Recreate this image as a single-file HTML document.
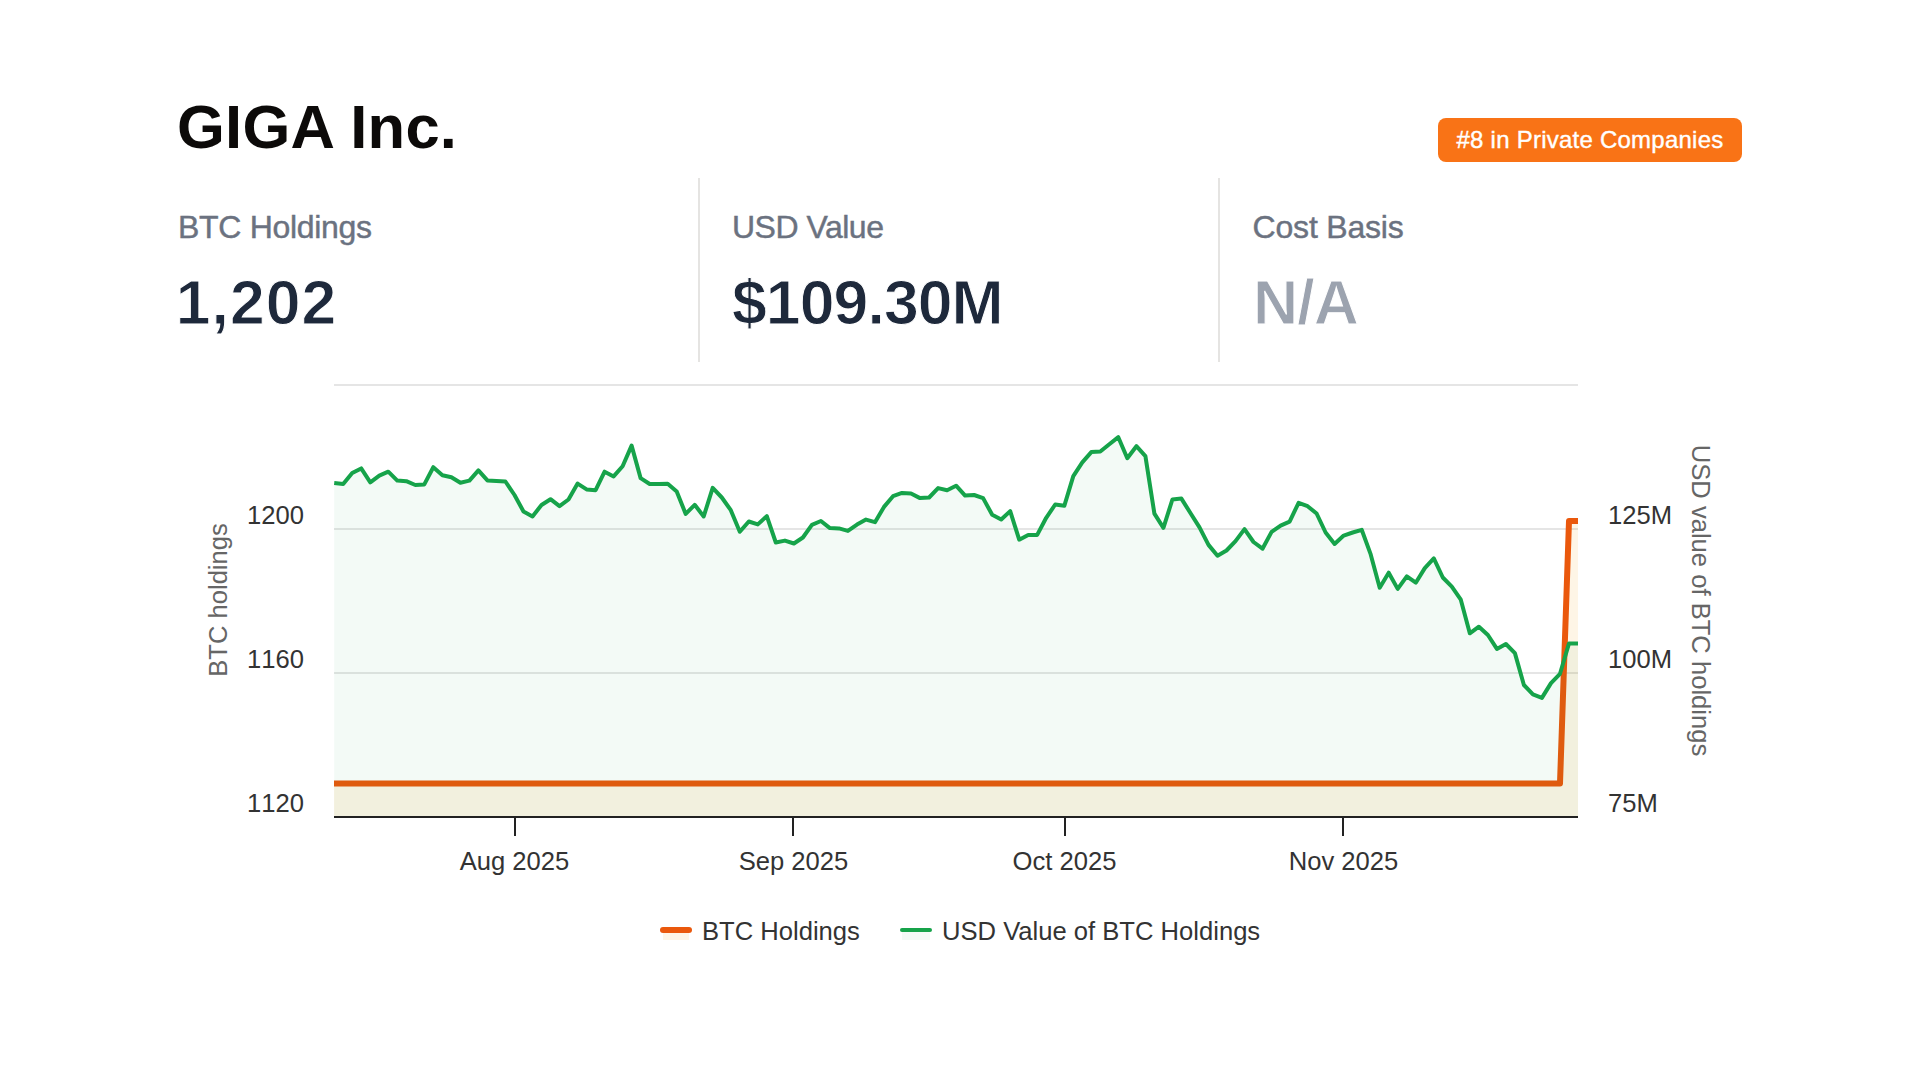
<!DOCTYPE html>
<html lang="en">
<head>
<meta charset="utf-8">
<title>GIGA Inc. – Bitcoin Holdings</title>
<style>
html,body{margin:0;padding:0;background:#fff;}
body{width:1920px;height:1080px;position:relative;overflow:hidden;font-family:"Liberation Sans",sans-serif;}
.title{position:absolute;left:177px;top:92px;margin:0;font-size:61.5px;line-height:70px;font-weight:700;color:#0c0a09;white-space:nowrap;letter-spacing:0.25px;}
.badge{position:absolute;left:1438px;top:118px;width:304px;height:44px;border-radius:8px;background:#f97316;color:#fff;font-size:24px;line-height:44px;text-align:center;white-space:nowrap;letter-spacing:0.24px;-webkit-text-stroke:0.4px #fff;}
.stat{position:absolute;top:178px;height:184px;}
.stat .lbl{position:absolute;left:0;top:31px;font-size:32px;line-height:36px;color:#6b7280;white-space:nowrap;letter-spacing:-0.3px;-webkit-text-stroke:0.45px #6b7280;}
.stat .val{position:absolute;left:0;top:89px;-webkit-text-stroke:1px #fff;font-size:62.5px;line-height:70px;font-weight:700;color:#1e293b;white-space:nowrap;}
.stat .val.na{color:#9ca3af;}
.div{position:absolute;top:178px;width:2px;height:184px;background:#e5e4e2;}
svg{position:absolute;left:0;top:0;}
svg text{font-family:"Liberation Sans",sans-serif;}
svg .nk text{font-kerning:none;}
</style>
</head>
<body>
<h1 class="title">GIGA Inc.</h1>
<div class="badge">#8 in Private Companies</div>

<div class="stat" style="left:178px;width:520px"><div class="lbl">BTC Holdings</div><div class="val" style="letter-spacing:1px;left:-2.2px">1,202</div></div>
<div class="div" style="left:698px"></div>
<div class="stat" style="left:731px;width:480px"><div class="lbl" style="left:1px;letter-spacing:-0.5px">USD Value</div><div class="val" style="letter-spacing:-0.9px;left:1px">$109.30M</div></div>
<div class="div" style="left:1218px"></div>
<div class="stat" style="left:1252px;width:480px"><div class="lbl" style="left:0.6px;letter-spacing:-0.2px">Cost Basis</div><div class="val na" style="letter-spacing:-0.9px;left:1px">N/A</div></div>

<svg width="1920" height="1080" viewBox="0 0 1920 1080">
  <defs><clipPath id="plot"><rect x="334" y="385" width="1244" height="433"/></clipPath></defs>
  <!-- top border -->
  <rect x="334" y="384" width="1244" height="2" fill="#e5e5e5"/>
  <!-- gridlines -->
  <g fill="#000" fill-opacity="0.1">
    <rect x="334" y="528" width="1244" height="2"/>
    <rect x="334" y="672" width="1244" height="2"/>
  </g>
  <g clip-path="url(#plot)">
    <!-- BTC holdings (orange) -->
    <path d="M334,783.4 L1560,783.4 L1569,521 L1578,521 L1578,817 L334,817 Z" fill="#f59e0b" fill-opacity="0.1"/>
    <path d="M330,783.4 L1560,783.4 L1569,521 L1584,521" fill="none" stroke="#ea580c" stroke-width="6" stroke-linejoin="round"/>
    <!-- USD value (green) -->
    <path d="M334.2,483.1 L343.2,484.1 L352.2,473.1 L361.2,468.4 L370.3,482.3 L379.3,475.6 L388.3,471.7 L397.3,480.6 L406.3,481.2 L415.3,485.0 L424.3,484.4 L433.3,467.2 L442.4,475.2 L451.4,477.2 L460.4,482.8 L469.4,480.6 L478.4,470.4 L487.4,480.4 L496.4,480.9 L505.4,481.5 L514.5,495.0 L523.5,511.5 L532.5,516.4 L541.5,505.0 L550.5,499.2 L559.5,506.2 L568.5,499.5 L577.6,483.6 L586.6,489.4 L595.6,490.2 L604.6,471.7 L613.6,476.4 L622.6,466.2 L631.6,445.6 L640.6,478.1 L649.7,484.0 L658.7,484.0 L667.7,483.8 L676.7,491.5 L685.7,513.9 L694.7,504.8 L703.7,516.4 L712.7,487.9 L721.8,497.5 L730.8,510.2 L739.8,531.8 L748.8,521.5 L757.8,524.4 L766.8,516.1 L775.8,542.5 L784.9,540.6 L793.9,543.5 L802.9,537.5 L811.9,524.8 L820.9,521.0 L829.9,528.1 L838.9,528.4 L847.9,530.9 L857.0,524.6 L866.0,519.6 L875.0,522.2 L884.0,506.9 L893.0,496.2 L902.0,492.9 L911.0,493.5 L920.0,498.1 L929.1,497.5 L938.1,488.1 L947.1,490.2 L956.1,485.7 L965.1,495.6 L974.1,495.0 L983.1,498.1 L992.2,514.8 L1001.2,519.5 L1010.2,511.1 L1019.2,539.7 L1028.2,535.0 L1037.2,534.9 L1046.2,517.8 L1055.2,504.5 L1064.3,505.8 L1073.3,476.1 L1082.3,462.4 L1091.3,452.1 L1100.3,451.5 L1109.3,444.2 L1118.3,437.2 L1127.3,458.2 L1136.4,446.2 L1145.4,456.1 L1154.4,513.6 L1163.4,527.9 L1172.4,499.5 L1181.4,498.6 L1190.4,513.0 L1199.5,527.4 L1208.5,544.9 L1217.5,555.7 L1226.5,550.5 L1235.5,541.1 L1244.5,529.1 L1253.5,542.0 L1262.5,548.7 L1271.6,531.9 L1280.6,525.6 L1289.6,521.6 L1298.6,502.8 L1307.6,506.2 L1316.6,513.5 L1325.6,532.5 L1334.6,543.9 L1343.7,535.6 L1352.7,532.5 L1361.7,529.8 L1370.7,554.4 L1379.7,587.7 L1388.7,572.7 L1397.7,588.9 L1406.8,576.3 L1415.8,582.7 L1424.8,568.1 L1433.8,558.4 L1442.8,577.5 L1451.8,586.6 L1460.8,599.7 L1469.8,633.3 L1478.9,626.7 L1487.9,635.0 L1496.9,648.9 L1505.9,644.0 L1514.9,653.1 L1523.9,685.0 L1532.9,694.4 L1541.9,697.9 L1551.0,683.1 L1560.0,673.8 L1569.0,643.4 L1578.0,643.4 L1578.0,817 L334.2,817 Z" fill="#16a34a" fill-opacity="0.05"/>
    <path d="M334.2,483.1 L343.2,484.1 L352.2,473.1 L361.2,468.4 L370.3,482.3 L379.3,475.6 L388.3,471.7 L397.3,480.6 L406.3,481.2 L415.3,485.0 L424.3,484.4 L433.3,467.2 L442.4,475.2 L451.4,477.2 L460.4,482.8 L469.4,480.6 L478.4,470.4 L487.4,480.4 L496.4,480.9 L505.4,481.5 L514.5,495.0 L523.5,511.5 L532.5,516.4 L541.5,505.0 L550.5,499.2 L559.5,506.2 L568.5,499.5 L577.6,483.6 L586.6,489.4 L595.6,490.2 L604.6,471.7 L613.6,476.4 L622.6,466.2 L631.6,445.6 L640.6,478.1 L649.7,484.0 L658.7,484.0 L667.7,483.8 L676.7,491.5 L685.7,513.9 L694.7,504.8 L703.7,516.4 L712.7,487.9 L721.8,497.5 L730.8,510.2 L739.8,531.8 L748.8,521.5 L757.8,524.4 L766.8,516.1 L775.8,542.5 L784.9,540.6 L793.9,543.5 L802.9,537.5 L811.9,524.8 L820.9,521.0 L829.9,528.1 L838.9,528.4 L847.9,530.9 L857.0,524.6 L866.0,519.6 L875.0,522.2 L884.0,506.9 L893.0,496.2 L902.0,492.9 L911.0,493.5 L920.0,498.1 L929.1,497.5 L938.1,488.1 L947.1,490.2 L956.1,485.7 L965.1,495.6 L974.1,495.0 L983.1,498.1 L992.2,514.8 L1001.2,519.5 L1010.2,511.1 L1019.2,539.7 L1028.2,535.0 L1037.2,534.9 L1046.2,517.8 L1055.2,504.5 L1064.3,505.8 L1073.3,476.1 L1082.3,462.4 L1091.3,452.1 L1100.3,451.5 L1109.3,444.2 L1118.3,437.2 L1127.3,458.2 L1136.4,446.2 L1145.4,456.1 L1154.4,513.6 L1163.4,527.9 L1172.4,499.5 L1181.4,498.6 L1190.4,513.0 L1199.5,527.4 L1208.5,544.9 L1217.5,555.7 L1226.5,550.5 L1235.5,541.1 L1244.5,529.1 L1253.5,542.0 L1262.5,548.7 L1271.6,531.9 L1280.6,525.6 L1289.6,521.6 L1298.6,502.8 L1307.6,506.2 L1316.6,513.5 L1325.6,532.5 L1334.6,543.9 L1343.7,535.6 L1352.7,532.5 L1361.7,529.8 L1370.7,554.4 L1379.7,587.7 L1388.7,572.7 L1397.7,588.9 L1406.8,576.3 L1415.8,582.7 L1424.8,568.1 L1433.8,558.4 L1442.8,577.5 L1451.8,586.6 L1460.8,599.7 L1469.8,633.3 L1478.9,626.7 L1487.9,635.0 L1496.9,648.9 L1505.9,644.0 L1514.9,653.1 L1523.9,685.0 L1532.9,694.4 L1541.9,697.9 L1551.0,683.1 L1560.0,673.8 L1569.0,643.4 L1578.0,643.4" fill="none" stroke="#16a34a" stroke-width="4" stroke-linejoin="round"/>
  </g>
  <!-- x axis -->
  <rect x="334" y="816" width="1244" height="2" fill="#222"/>
  <g fill="#222">
    <rect x="514" y="817" width="2" height="19"/>
    <rect x="792" y="817" width="2" height="19"/>
    <rect x="1064" y="817" width="2" height="19"/>
    <rect x="1342" y="817" width="2" height="19"/>
  </g>
  <g font-size="25.6" fill="#333" text-anchor="middle">
    <text x="514.5" y="870">Aug 2025</text>
    <text x="793.5" y="870">Sep 2025</text>
    <text x="1064.5" y="870">Oct 2025</text>
    <text x="1343.5" y="870">Nov 2025</text>
  </g>
  <!-- y ticks left -->
  <g class="nk" font-size="25.6" fill="#333" text-anchor="end">
    <text x="304" y="524">1200</text>
    <text x="304" y="668">1160</text>
    <text x="304" y="812">1120</text>
  </g>
  <!-- y ticks right -->
  <g class="nk" font-size="25.6" fill="#333" text-anchor="start">
    <text x="1608" y="524">125M</text>
    <text x="1608" y="668">100M</text>
    <text x="1608" y="812">75M</text>
  </g>
  <!-- axis titles -->
  <text font-size="25.6" fill="#666" text-anchor="middle" transform="translate(226.7,600) rotate(-90)">BTC holdings</text>
  <text font-size="25.6" fill="#666" text-anchor="middle" transform="translate(1691.6,600.5) rotate(90)">USD value of BTC holdings</text>
  <!-- legend -->
  <rect x="663" y="930" width="26" height="10" fill="#f59e0b" fill-opacity="0.1"/>
  <path d="M663,930 L689,930" stroke="#ea580c" stroke-width="6" stroke-linecap="round"/>
  <text x="702" y="940" font-size="25.6" fill="#333">BTC Holdings</text>
  <rect x="902" y="930" width="28" height="10" fill="#16a34a" fill-opacity="0.05"/>
  <path d="M902,930 L930,930" stroke="#16a34a" stroke-width="4" stroke-linecap="round"/>
  <text x="942" y="940" font-size="25.6" fill="#333">USD Value of BTC Holdings</text>
</svg>
</body>
</html>
